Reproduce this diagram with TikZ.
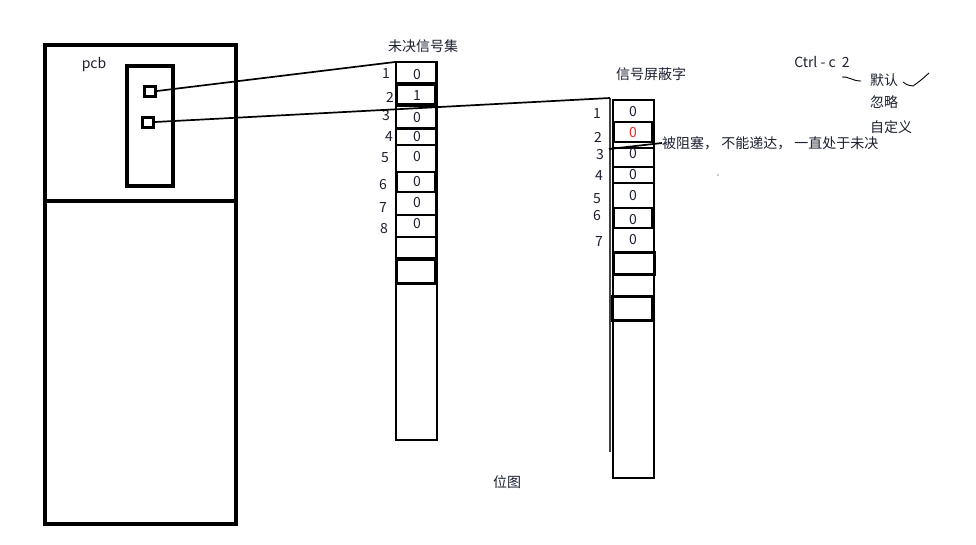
\documentclass[tikz,border=0pt]{standalone}
\usepackage{fontspec}
\setmainfont{Noto Sans CJK SC}
\definecolor{txt}{RGB}{28,32,48}
\definecolor{redz}{RGB}{235,40,40}
\begin{document}
\begin{tikzpicture}[x=1pt,y=-1pt,
  lbl/.style={inner sep=0pt,text=txt,font=\fontsize{14}{14}\selectfont},
  cell/.style={draw=black,line width=2.2pt},
  thickcell/.style={draw=black,line width=3pt},
  col/.style={draw=black,line width=2.6pt},
  conn/.style={draw=black,line width=1.7pt}]
\useasboundingbox (0,0) rectangle (976,544);
\fill[white] (0,0) rectangle (976,544);
% PCB
\draw[line width=3.8pt] (45,45) rectangle (236,524);
\draw[line width=3.8pt] (45,201) -- (236,201);
\node[lbl] (pcb) at (94,65) {pcb};
\draw[line width=3.4pt] (127,66) rectangle (173,186);
\node[draw,line width=3pt,minimum width=11pt,minimum height=10pt,inner sep=0pt] (sq1) at (150,91) {};
\node[draw,line width=3pt,minimum width=11pt,minimum height=10pt,inner sep=0pt] (sq2) at (148,122) {};
% pending column
\node[lbl] (ptitle) at (423,46) {未决信号集};
\draw[col] (396,62) rectangle (437,440);
\coordinate (ptop) at (395,62);
\draw[cell] (396,62) rectangle (436,83);
\draw[cell] (397,85) rectangle (435,104);
\draw[cell] (396,106) rectangle (436,128);
\draw[cell] (396,129) rectangle (436,145);
\draw[cell] (396,145) rectangle (436,172);
\draw[cell] (397,172) rectangle (435,192);
\draw[cell] (396,192) rectangle (436,215);
\draw[cell] (396,215) rectangle (436,237);
\draw[cell] (396,237) rectangle (436,258);
\draw[thickcell] (396,259) rectangle (435,283);
\foreach \n/\x/\y in {1/386/74,2/390/97,3/386/116,4/389/137,5/385/158,6/383/185,7/383/208,8/384/229}
  \node[lbl] (pn\n) at (\x,\y) {\n};
\foreach \v/\y [count=\i] in {0/75,1/96,0/118,0/137,0/157,0/182,0/203,0/224}
  \node[lbl] (pv\i) at (417,\y) {\v};
% mask column
\node[lbl] (mtitle) at (651,74) {信号屏蔽字};
\draw[col] (613,100) rectangle (654,478);
\coordinate (mtop) at (610,98);
\coordinate (mbot) at (610,452);
\draw[cell] (613,100) rectangle (654,122);
\draw[cell] (614,122) rectangle (652,142);
\draw[cell] (613,148) rectangle (654,167);
\draw[cell] (613,167) rectangle (654,183);
\draw[cell] (613,183) rectangle (654,208);
\draw[cell] (614,208) rectangle (652,228);
\draw[cell] (613,228) rectangle (654,252);
\draw[thickcell] (613,252) rectangle (654,274);
\draw[cell] (613,274) rectangle (654,296);
\draw[thickcell] (612,296) rectangle (652,320);
\draw[line width=1.3pt,black!75] (mtop) -- (mbot);
\node[lbl] (mn1) at (597,114) {1};
\node[lbl] (mn2) at (598,137) {2};
\node[lbl] (mn3) at (600,155) {3};
\node[lbl] (mn4) at (599,176) {4};
\node[lbl] (mn5) at (597,199) {5};
\node[lbl] (mn6) at (597,216) {6};
\node[lbl] (mn7) at (599,242) {7};
\node[lbl] (mv1) at (633,112) {0};
\node[lbl,text=redz] (mv2) at (633,133) {0};
\node[lbl] (mv3) at (633,154) {0};
\node[lbl] (mv4) at (633,175) {0};
\node[lbl] (mv5) at (633,196) {0};
\node[lbl] (mv6) at (633,220) {0};
\node[lbl] (mv7) at (633,240) {0};
% blocked note
\node[lbl,anchor=west] (block) at (662,143) {被阻塞，\ 不能递达，\ 一直处于未决};
\coordinate (bl) at (609,149);
\draw[conn] (bl) -- (block.west);
\fill[txt] (718,175) circle (0.6pt);
% connectors from pcb
\draw[conn] (sq1.east) -- (ptop);
\draw[conn] (sq2.east) -- (mtop);
% ctrl-c
\node[lbl] (ctrl) at (822,62) {Ctrl - c\ \ 2};
\node[lbl] (def) at (884,80) {默认};
\node[lbl] (ign) at (884,102) {忽略};
\node[lbl] (cust) at (891,127) {自定义};
\coordinate (t0) at (842,77);
\coordinate (t1) at (861,81);
\draw[line width=0.9pt] (t0) .. controls (848,76) and (852,81) .. (t1);
\coordinate (c0) at (903,82);
\coordinate (c1) at (913,86);
\coordinate (c2) at (929,73);
\draw[line width=0.9pt] (c0) .. controls (907,85) .. (c1) .. controls (920,81) .. (c2);
% bitmap
\node[lbl] (bitmap) at (507,482) {位图};
\end{tikzpicture}
\end{document}
